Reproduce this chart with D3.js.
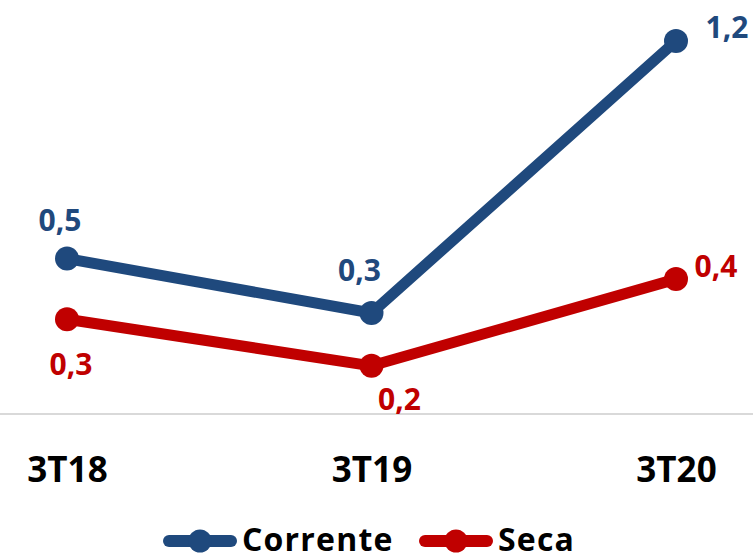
<!DOCTYPE html>
<html>
<head>
<meta charset="utf-8">
<script src="https://cdn.jsdelivr.net/npm/d3@7"></script>
<style>
  body { margin: 0; background: #fff; }
  text { font-family: "Open Sans", Lato, sans-serif; font-weight: bold; }
</style>
</head>
<body>
<div id="chart"></div>
<script>
// data
var categories = ["3T18", "3T19", "3T20"];
var corrente = [0.50, 0.325, 1.20];
var seca = [0.305, 0.155, 0.434];

var series = [
  {name: "Corrente", values: corrente, color: "#1F497D",
   // label offsets from the point (centre x, baseline y)
   offsets: [[-7, -28], [-12, -32], [51, -3]]},
  {name: "Seca", values: seca, color: "#C00000",
   offsets: [[4, 56], [28, 44], [40, -2]]}
];

var total_width = 753, total_height = 560;

var svg = d3.select("#chart").append("svg")
    .attr("width", total_width)
    .attr("height", total_height);

var x = d3.scalePoint()
    .domain(categories)
    .range([67, 676]);

var yMax = d3.max(series, s => d3.max(s.values));
var y = d3.scaleLinear()
    .domain([0, yMax])
    .range([414, 41]);

var fmt = d3.format(".1f");
function label(v) { return fmt(v).replace(".", ","); }

// baseline
svg.append("line")
    .attr("x1", 0).attr("x2", total_width)
    .attr("y1", y(0)).attr("y2", y(0))
    .attr("stroke", "#D9D9D9")
    .attr("stroke-width", 2);

// category axis
var xAxis = svg.append("g")
    .attr("transform", "translate(0," + y(0) + ")")
    .call(d3.axisBottom(x).tickSize(0).tickPadding(43));
xAxis.select(".domain").remove();
xAxis.selectAll("text")
    .attr("fill", "#000")
    .attr("dy", "0.72em")
    .style("font-size", "35px")
    .style("font-family", "'Open Sans', Lato, sans-serif")
    .style("font-weight", "bold");

var line = d3.line()
    .x((d, i) => x(categories[i]))
    .y(d => y(d));

series.forEach(function(s) {
  var g = svg.append("g");
  g.append("path")
      .datum(s.values)
      .attr("fill", "none")
      .attr("stroke", s.color)
      .attr("stroke-width", 11)
      .attr("stroke-linejoin", "round")
      .attr("d", line);

  g.selectAll("circle")
      .data(s.values)
      .enter()
      .append("circle")
        .attr("cx", (d, i) => x(categories[i]))
        .attr("cy", d => y(d))
        .attr("r", 12)
        .attr("fill", s.color);

  g.selectAll(".lbl")
      .data(s.values)
      .enter()
      .append("text")
        .attr("class", "lbl")
        .attr("x", (d, i) => x(categories[i]) + s.offsets[i][0])
        .attr("y", (d, i) => y(d) + s.offsets[i][1])
        .attr("text-anchor", "middle")
        .attr("fill", s.color)
        .style("font-size", "30px")
        .text(d => label(d));
});

// legend
var legendX = [169, 425];
var legend = svg.append("g")
    .selectAll("g")
    .data(series)
    .enter()
    .append("g")
      .attr("transform", (d, i) => "translate(" + legendX[i] + ",541)");

legend.append("line")
    .attr("x1", 0).attr("x2", 62)
    .attr("y1", 0).attr("y2", 0)
    .attr("stroke", d => d.color)
    .attr("stroke-width", 12)
    .attr("stroke-linecap", "round");

legend.append("circle")
    .attr("cx", 31).attr("cy", 0)
    .attr("r", 11.5)
    .attr("fill", d => d.color);

legend.append("text")
    .attr("x", 73)
    .attr("y", 10)
    .attr("fill", "#000")
    .style("font-size", "32px")
    .style("letter-spacing", "1.2px")
    .text(d => d.name);
</script>
</body>
</html>
